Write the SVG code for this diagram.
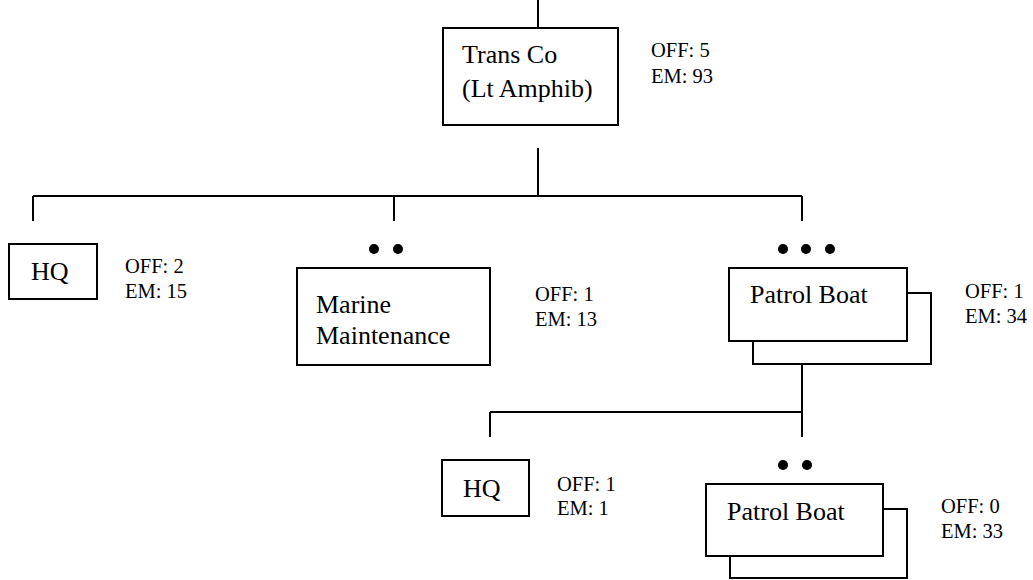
<svg xmlns="http://www.w3.org/2000/svg" width="1033" height="580" viewBox="0 0 1033 580">
<style>
.box{fill:#fff;stroke:#000;stroke-width:2}
.ln{fill:none;stroke:#000;stroke-width:2}
.t{font-family:"Liberation Serif","Times New Roman",serif;font-size:26px;fill:#000}
.s{font-family:"Liberation Serif","Times New Roman",serif;font-size:20.5px;fill:#000}
.dot{fill:#000}
</style>
<rect width="1033" height="580" fill="#fff"/>
<g id="connectors">
<path class="ln" d="M538,0V28"/>
<path class="ln" d="M538,148V196M33,196H802M33,196V221M394,196V221M802,196V221"/>
<path class="ln" d="M802,364V437M490,412H802M490,412V437"/>
</g>
<g id="transco">
<rect class="box" x="443" y="28" width="175" height="97"/>
<text class="t" x="462" y="63">Trans Co</text>
<text class="t" x="462" y="97">(Lt Amphib)</text>
<text class="s" x="651" y="57">OFF: 5</text>
<text class="s" x="651" y="83">EM: 93</text>
</g>
<g id="hq1">
<rect class="box" x="9" y="244" width="88" height="55"/>
<text class="t" x="31" y="280">HQ</text>
<text class="s" x="125" y="273">OFF: 2</text>
<text class="s" x="125" y="298">EM: 15</text>
</g>
<g id="marine">
<circle class="dot" cx="374" cy="249" r="5"/>
<circle class="dot" cx="398" cy="249" r="5"/>
<rect class="box" x="297" y="268" width="193" height="97"/>
<text class="t" x="316" y="313">Marine</text>
<text class="t" x="316" y="344">Maintenance</text>
<text class="s" x="535" y="301">OFF: 1</text>
<text class="s" x="535" y="326">EM: 13</text>
</g>
<g id="patrol1">
<circle class="dot" cx="783" cy="249" r="5"/>
<circle class="dot" cx="806" cy="249" r="5"/>
<circle class="dot" cx="830" cy="249" r="5"/>
<rect class="box" x="753" y="293" width="178" height="71"/>
<rect class="box" x="729" y="268" width="178" height="73"/>
<text class="t" x="750" y="303">Patrol Boat</text>
<text class="s" x="965" y="298">OFF: 1</text>
<text class="s" x="965" y="323">EM: 34</text>
</g>
<g id="hq2">
<rect class="box" x="442" y="460" width="87" height="56"/>
<text class="t" x="463" y="497">HQ</text>
<text class="s" x="557" y="491">OFF: 1</text>
<text class="s" x="557" y="515">EM: 1</text>
</g>
<g id="patrol2">
<circle class="dot" cx="783" cy="465" r="5"/>
<circle class="dot" cx="807" cy="465" r="5"/>
<rect class="box" x="730" y="509" width="177" height="69"/>
<rect class="box" x="706" y="484" width="177" height="72"/>
<text class="t" x="727" y="520">Patrol Boat</text>
<text class="s" x="941" y="513">OFF: 0</text>
<text class="s" x="941" y="538">EM: 33</text>
</g>
</svg>
